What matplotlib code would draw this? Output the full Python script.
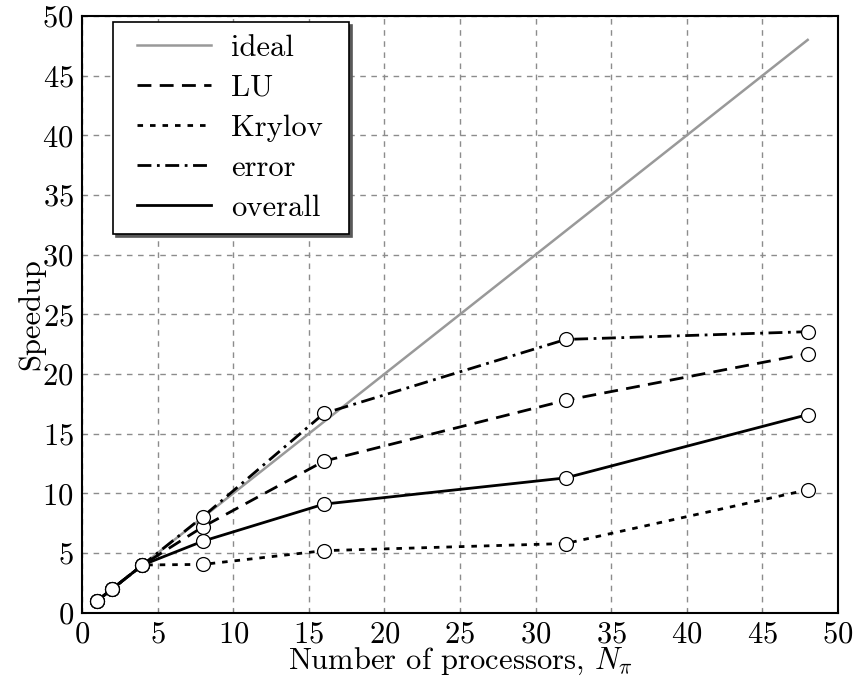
import matplotlib
matplotlib.use("Agg")
import matplotlib.pyplot as plt
from matplotlib.legend_handler import HandlerLine2D

plt.rcParams['font.family'] = 'cmr10'
plt.rcParams['mathtext.fontset'] = 'cm'
plt.rcParams['axes.unicode_minus'] = False
plt.rcParams['axes.formatter.use_mathtext'] = True

# processor counts
procs = [1, 2, 4, 8, 16, 32, 48]
ideal_x = [1, 48]
ideal_y = [1, 48]

# measured speedups
lu = [1.0, 2.0, 4.0, 7.2, 12.7, 17.8, 21.7]
krylov = [1.0, 2.0, 4.0, 4.05, 5.2, 5.8, 10.3]
error = [1.0, 2.0, 4.0, 8.05, 16.7, 22.9, 23.55]
overall = [1.0, 2.0, 4.0, 6.0, 9.1, 11.3, 16.6]

fig = plt.figure(figsize=(8.58, 6.79), dpi=100)
ax = fig.add_axes([0.0956, 0.0976, 0.881, 0.8788])

ax.plot(ideal_x, ideal_y, color='0.6', linewidth=1.8, label='ideal')
ax.plot(procs, lu, color='black', linewidth=2, linestyle=(0, (5, 3)), label='LU')
ax.plot(procs, krylov, color='black', linewidth=2, linestyle=(0, (2, 2.5)), label='Krylov')
ax.plot(procs, error, color='black', linewidth=2, linestyle=(0, (5, 2, 1, 2)), label='error')
ax.plot(procs, overall, color='black', linewidth=2, label='overall')

for series in [lu, krylov, error, overall]:
    ax.plot(procs, series, linestyle='none', marker='o', markersize=10,
            markerfacecolor='white', markeredgecolor='black', markeredgewidth=0.9)

ax.set_xlim(0, 50)
ax.set_ylim(0, 50)
ax.set_xticks(range(0, 51, 5))
ax.set_yticks(range(0, 51, 5))
ax.grid(True, color='0.55', linestyle=(0, (4, 4)), linewidth=1)
ax.tick_params(direction='in', length=3, labelsize=22, pad=6, color='0.5')
for s in ax.spines.values():
    s.set_linewidth(1.5)

ax.set_xlabel(r'Number of processors, $N_\pi$', fontsize=22, labelpad=-2)
ax.set_ylabel('Speedup', fontsize=22, labelpad=-2)

leg = ax.legend(loc='upper left', bbox_to_anchor=(0.041, 0.5, 0.312, 0.49),
                mode='expand', borderaxespad=0,
                fontsize=22, fancybox=False, framealpha=1, edgecolor='black',
                shadow={'color': '0.35', 'alpha': 1}, handlelength=2.8,
                labelspacing=0.41, borderpad=0.4, handletextpad=0.65,
                handler_map={matplotlib.lines.Line2D: HandlerLine2D(xpad=0.4)})
leg.get_frame().set_linewidth(1.2)

fig.savefig('out.png', dpi=100)
